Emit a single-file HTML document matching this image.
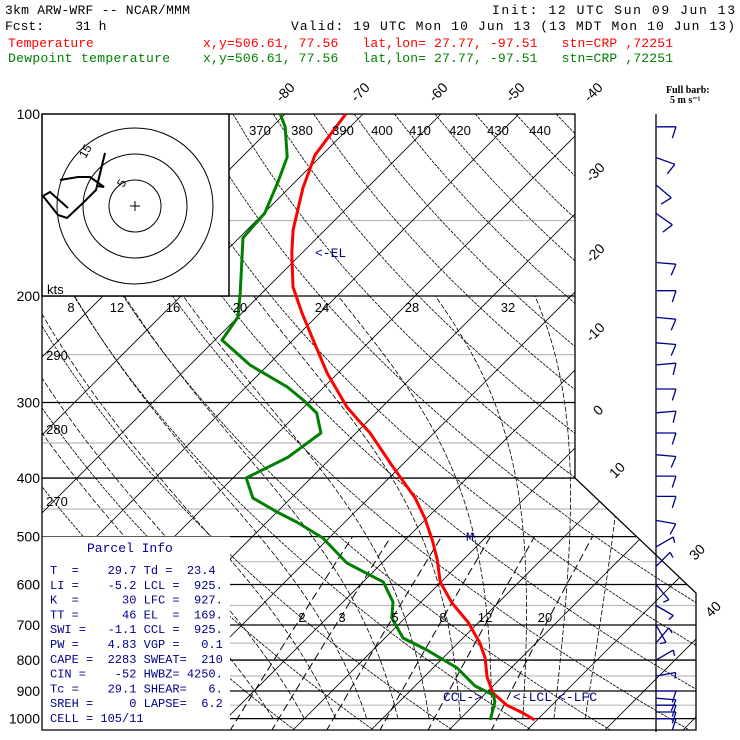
<!DOCTYPE html>
<html><head><meta charset="utf-8"><style>
html,body{margin:0;padding:0;background:#fff;}
svg{display:block;}
.mono{font-family:"Liberation Mono",monospace;font-size:13px;}
</style></head><body>
<svg id="chart" width="740" height="740" viewBox="0 0 740 740" xmlns="http://www.w3.org/2000/svg" font-family="Liberation Sans, sans-serif">
<defs><clipPath id="plotClip"><polygon points="42,114 575,114 575,478 696,593 696,730 42,730"/></clipPath></defs>
<g>
<text class="mono" x="5" y="14" fill="#000" textLength="185">3km ARW-WRF -- NCAR/MMM</text>
<text class="mono" x="492" y="14" fill="#000" textLength="243">Init: 12 UTC Sun 09 Jun 13</text>
<text class="mono" x="5" y="30" fill="#000" xml:space="preserve">Fcst:    31 h</text>
<text class="mono" x="291" y="30" fill="#000" textLength="444">Valid: 19 UTC Mon 10 Jun 13 (13 MDT Mon 10 Jun 13)</text>
<text class="mono" x="8" y="47" fill="#ff0000">Temperature</text>
<text class="mono" x="203" y="47" fill="#ff0000" xml:space="preserve" textLength="470">x,y=506.61, 77.56   lat,lon= 27.77, -97.51   stn=CRP ,72251</text>
<text class="mono" x="8" y="62" fill="#008000" textLength="162">Dewpoint temperature</text>
<text class="mono" x="203" y="62" fill="#008000" xml:space="preserve" textLength="470">x,y=506.61, 77.56   lat,lon= 27.77, -97.51   stn=CRP ,72251</text>
</g>
<g id="grid" clip-path="url(#plotClip)"></g>
<g id="boxes"></g>
<g id="profiles" clip-path="url(#plotClip)"></g>
<g id="labels"></g>
<g id="winds"></g>
</svg>
<script>
// ---- data ----
const tempP = [100,116.9,132.6,155.5,169.8,193.2,213.4,236.5,268.1,305.2,320.6,336.9,383.5,431.5,465.6,506.4,546.4,594.3,643.7,692.2,749.6,793.7,853.6,907,949.5,978.8,1005];
const tempT = [-72.2,-70.9,-68.2,-64.1,-61.3,-56.8,-52.3,-47.4,-41.4,-34.5,-31.4,-28.2,-20.9,-14.1,-10.3,-6.5,-3.3,-0.1,4.1,8.6,12.8,15.4,18.1,20.9,24.2,27.3,29.7];
const dewP = [100,105.1,117.8,130.1,145.8,160.3,197.7,216.6,236.5,260.1,282.8,297.2,312.3,336.9,369.3,400,431.5,455.2,472.9,502.6,552.9,578.9,594.3,641.2,681.4,735.5,769.8,824.5,883.2,913.8,938.5,1005];
const dewT = [-80.6,-78.3,-74.2,-72.1,-69.9,-69.5,-62.8,-60,-59.1,-52.3,-44.7,-41,-37.6,-34.5,-35.6,-38.3,-34.9,-30,-26.2,-20.8,-14.5,-10,-7.4,-3.6,-1.7,2.3,6.9,13.1,17.7,21.2,22.3,24];
const windP = [105,118,131,146,176,196,217,239,260,285,312,337,366,397,429,470,520,560,600,650,700,750,800,850,900,925,950,975,1000];
const windDir = [90,110,130,125,95,90,95,95,85,90,85,90,95,90,90,100,60,45,140,120,150,40,60,80,90,95,90,90,90];
const windSpd = [7,6,5,6,5,6,7,7,6,6,7,7,7,6,6,5,4,4,4,4,3,4,4,4,5,5,5,5,5];
const pressureTicks = [100,200,300,400,500,600,700,800,900,1000];
const isoLabels = [-80,-70,-60,-50,-40,-30,-20,-10,0,10,30,40];
const thetaTop = [370,380,390,400,410,420,430,440];
const thetaLeft = [290,280,270];
const thetaWLabels = [8,12,16,20,24,28,32];
const mixLabels = [2,3,5,8,12,20];

// ---- axes ----
const yP = p => 114 + 262.6*Math.log(p/100);
const xT = (T,y) => 303 + 7.8*T + (720 - y);
const NS='http://www.w3.org/2000/svg';
const MONO='Liberation Mono, monospace';
function mk(tag, attrs, parent){const e=document.createElementNS(NS,tag);for(const k in attrs)e.setAttribute(k,attrs[k]);parent.appendChild(e);return e;}
const grid=document.getElementById('grid');
const boxes=document.getElementById('boxes');
const prof=document.getElementById('profiles');
const labels=document.getElementById('labels');
const winds=document.getElementById('winds');

for(let p=150;p<=950;p+=100){const y=yP(p);const l=mk('line',{x1:42,x2:700,y1:y,y2:y,stroke:'#bbbbbb','stroke-width':1.2},grid);

}
for(let T=-160;T<=60;T+=10){const l=mk('line',{x1:xT(T,114),y1:114,x2:xT(T,730),y2:730,stroke:'#000','stroke-width':0.8},grid);

}
for(let th=230;th<=460;th+=10){let d='';for(let p=100;p<=1050;p+=10){const T=th*Math.pow(p/1000,0.2857)-273.15;const y=yP(p);d+=(p===100?'M':'L')+xT(T,y).toFixed(1)+','+y.toFixed(1);}
const e=mk('path',{d:d,fill:'none',stroke:'#000','stroke-width':0.8,'stroke-dasharray':'3,1'},grid);

}
function es(T){return 6.112*Math.exp(17.67*T/(T+243.5));}
for(let tw=-4;tw<=36;tw+=4){let T=tw,p=1000,d='M'+xT(T,yP(p)).toFixed(1)+','+yP(p).toFixed(1);
while(p>200){const Tk=T+273.15;const rs=0.622*es(T)/(p-es(T));const g=(287*Tk+2.5e6*rs)/(p*(1004+2.5e6*2.5e6*rs*0.622/(287*Tk*Tk)));const dp=-5;T+=g*dp;p+=dp;const y=yP(p);d+='L'+xT(T,y).toFixed(1)+','+y.toFixed(1);}
const e=mk('path',{d:d,fill:'none',stroke:'#000','stroke-width':0.8,'stroke-dasharray':'5,2'},grid);

}
for(const w of [2,3,5,8,12,20]){let d='';let first=true;for(let p=1050;p>=500;p-=10){const e_=w/1000*p/(0.622+w/1000);const a=Math.log(e_/6.112);const T=243.5*a/(17.67-a);const y=yP(p);d+=(first?'M':'L')+xT(T,y).toFixed(1)+','+y.toFixed(1);first=false;}
const e=mk('path',{d:d,fill:'none',stroke:'#000','stroke-width':1,'stroke-dasharray':'8,4'},grid);

}
for(const p of pressureTicks){const y=yP(p);const l=mk('line',{x1:42,x2:700,y1:y,y2:y,stroke:'#000','stroke-width':1.3},grid);

}

const hb=mk('rect',{x:42,y:114,width:187,height:182,fill:'#fff',stroke:'#000','stroke-width':1.3},boxes);


for(const r of [26,52,78]){const c=mk('circle',{cx:135,cy:206,r:r,fill:'none',stroke:'#000','stroke-width':1},boxes);

}
mk('path',{d:'M130,206h10M135,201v10',stroke:'#000','stroke-width':1},boxes);
const hod=mk('polyline',{points:'68,208 50,192 43,196 58,215 67,218 84,202 96,190 100,174 105,153 102,165 97,186 104,187 90,177 78,177 60,180',fill:'none',stroke:'#000','stroke-width':2},boxes);


const pb=mk('rect',{x:42,y:yP(500),width:188,height:730-yP(500),fill:'#fff',stroke:'none'},boxes);


const ol=mk('polyline',{points:'229,114 42,114 42,730 696,730 696,593 575,478 575,114 229,114 229,296 42,296',fill:'none',stroke:'#000','stroke-width':1.3},boxes);


const wa=mk('line',{x1:656,y1:114,x2:656,y2:732,stroke:'#000','stroke-width':1.3},boxes);



function prPath(P,T){return P.map((p,i)=>{const y=yP(p);return (i?'L':'M')+xT(T[i],y).toFixed(1)+','+y.toFixed(1);}).join('');}
const tl=mk('path',{d:prPath(tempP,tempT),fill:'none',stroke:'#ff0000','stroke-width':3,'stroke-linejoin':'round'},prof);


const dl=mk('path',{d:prPath(dewP,dewT),fill:'none',stroke:'#008000','stroke-width':3,'stroke-linejoin':'round'},prof);



function txt(x,y,s,opts,name){const t=mk('text',Object.assign({x:x,y:y,'font-size':14,fill:'#000'},opts||{}),labels);t.textContent=s;

return t;}
for(const p of pressureTicks){txt(40,yP(p)+5,String(p),{'text-anchor':'end'},'pressure-tick-label');}
const isoPos=[[285,97],[360,97],[438,97],[515,97],[593,97],[595,177],[595,258],[595,337],[598,415],[617,475],[697,557],[713,614]];
isoLabels.forEach((T,i)=>{const [x,y]=isoPos[i];txt(x,y,String(T),{'text-anchor':'middle',transform:'rotate(-45 '+x+' '+(y-5)+')'},'isotherm-label');});
const thX=[260,302,343,382,420,460,498,540];
thetaTop.forEach((v,i)=>txt(thX[i],135,String(v),{'text-anchor':'middle','font-size':13},'theta-label'));
const thY=[360,434,506];
thetaLeft.forEach((v,i)=>txt(57,thY[i],String(v),{'text-anchor':'middle','font-size':13},'theta-label'));
const twX=[71,117,173,240,322,412,508];
thetaWLabels.forEach((v,i)=>txt(twX[i],312,String(v),{'text-anchor':'middle','font-size':13},'thetaw-label'));
const mrX=[302,342,395,443,485,545];
mixLabels.forEach((v,i)=>txt(mrX[i],622,String(v),{'text-anchor':'middle','font-size':13},'mixing-ratio-label'));
txt(47,294,'kts',{'font-size':13},'hodograph-units');
txt(82,161,'15',{'font-size':12,transform:'rotate(-60 82 157)'},'hodo-ring-label');
txt(120,190,'5',{'font-size':12,transform:'rotate(-60 120 186)'},'hodo-ring-label');
const navy={fill:'#00008b','font-size':13,'font-family':MONO};
txt(315,257,'<-EL',navy,'el-marker');
txt(466,541,'M',navy,'m-marker');
txt(443,701,'CCL->',navy,'ccl-marker');
txt(513,701,'<-LCL',navy,'lcl-marker');
txt(558,701,'<-LFC',navy,'lfc-marker');
txt(666,93,'Full barb:',{'font-size':10,'font-weight':'bold','font-family':'Liberation Serif, serif'},'barb-legend');
txt(670,103,'5 m s\u207B\u00B9',{'font-size':10,'font-weight':'bold','font-family':'Liberation Serif, serif'},'barb-legend-units');
const pinfo=['T  =    29.7 Td =  23.4','LI =    -5.2 LCL =  925.','K  =      30 LFC =  927.','TT =      46 EL  =  169.','SWI =   -1.1 CCL =  925.','PW =    4.83 VGP =   0.1','CAPE =  2283 SWEAT=  210','CIN =    -52 HWBZ= 4250.','Tc =    29.1 SHEAR=   6.','SREH =     0 LAPSE=  6.2','CELL = 105/11'];
const ph=mk('text',{x:87,y:552,fill:'#00008b','font-size':13,'font-family':MONO},labels);ph.textContent='Parcel Info';


pinfo.forEach((s,i)=>{const t=mk('text',{x:50,y:574+i*14.8,fill:'#00008b','font-size':12,'font-family':MONO},labels);t.setAttribute('style','white-space:pre');t.textContent=s;

});

windP.forEach((p,i)=>{const y=yP(p),x=656,L=20,a=windDir[i]*Math.PI/180;
const ex=x+L*Math.sin(a),ey=y-L*Math.cos(a);
let d='M'+x+','+y.toFixed(1)+'L'+ex.toFixed(1)+','+ey.toFixed(1);
let s=windSpd[i],k=0;
const fa=a+Math.PI*0.6;
while(s>=2.5){const len=s>=5?12:6;const bx=x+(L-k*4)*Math.sin(a),by=y-(L-k*4)*Math.cos(a);
d+='M'+bx.toFixed(1)+','+by.toFixed(1)+'L'+(bx+len*Math.sin(fa)).toFixed(1)+','+(by-len*Math.cos(fa)).toFixed(1);
s-=s>=5?5:2.5;k++;}
const b=mk('path',{d:d,fill:'none',stroke:'#00008b','stroke-width':1.3},winds);

});
</script>
</body></html>
